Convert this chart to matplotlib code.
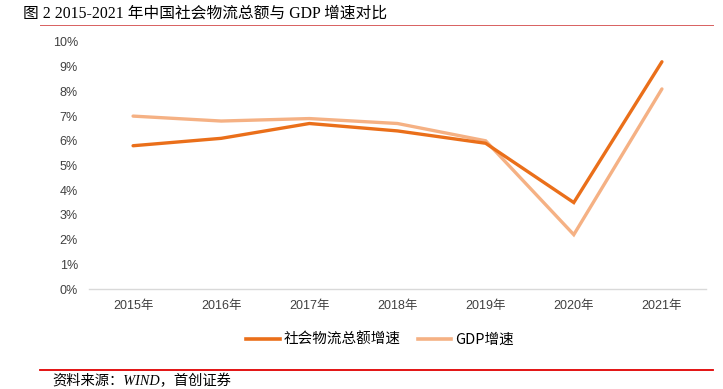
import matplotlib.pyplot as plt
from matplotlib.lines import Line2D
from matplotlib.ticker import PercentFormatter

# data
years = ['2015年', '2016年', '2017年', '2018年', '2019年', '2020年', '2021年']
logistics_growth = [5.8, 6.1, 6.7, 6.4, 5.9, 3.5, 9.2]
gdp_growth = [7.0, 6.8, 6.9, 6.7, 6.0, 2.2, 8.1]
series_names = ['社会物流总额增速', 'GDP增速']

cjk = ['Noto Sans CJK SC', 'DejaVu Sans']
serif_cjk = ['Liberation Serif', 'Noto Sans CJK SC', 'DejaVu Sans']
plt.rcParams['font.family'] = ['Liberation Sans', 'Noto Sans CJK SC', 'DejaVu Sans']

W, H = 723, 389
fig = plt.figure(figsize=(W / 100, H / 100), dpi=100)

# plot area placed in pixel terms
left, right, bottom, top = 89, 706, 289, 42
ax = fig.add_axes([left / W, (H - bottom) / H, (right - left) / W, (bottom - top) / H])

x = range(len(years))
ax.plot(x, logistics_growth, color='#EA6F1A', lw=2.4, solid_capstyle='round',
        solid_joinstyle='miter', zorder=3)
ax.plot(x, gdp_growth, color='#F5B184', lw=2.4, solid_capstyle='round',
        solid_joinstyle='miter', zorder=2)

ax.set_xlim(-0.5, len(years) - 0.5)
ax.set_ylim(0, 10)
ax.set_yticks(range(0, 11))
ax.yaxis.set_major_formatter(PercentFormatter(decimals=0))
ax.set_xticks(list(x))
ax.set_xticklabels(years, fontsize=9, color='#404040')
ax.tick_params(axis='y', labelsize=9, colors='#404040', length=0, pad=8)
ax.tick_params(axis='x', length=0, pad=8)

for s in ['top', 'right', 'left']:
    ax.spines[s].set_visible(False)
ax.spines['bottom'].set_color('#D9D9D9')
ax.spines['bottom'].set_linewidth(1.0)

# legend
handles = [Line2D([], [], color='#EA6F1A', lw=2.6),
           Line2D([], [], color='#F5B184', lw=2.6)]
fig.legend(handles, series_names, loc='center', bbox_to_anchor=(380 / W, (H - 340) / H),
           ncol=2, frameon=False, handlelength=2.3, handletextpad=0.25, columnspacing=1.2,
           prop={'family': cjk, 'size': 10.5})

# title and red rules
fig.text(23 / W, (H - 14) / H, '图 2 2015-2021 年中国社会物流总额与 GDP 增速对比',
         fontsize=11.3, va='center', ha='left', family=serif_cjk)
fig.add_artist(Line2D([40 / W, 713 / W], [(H - 24.5) / H] * 2, color='#D86060', lw=0.7))
fig.add_artist(Line2D([40 / W, 713 / W], [(H - 370) / H] * 2, color='#E00000', lw=1.3))

fig.text(52 / W, (H - 381) / H, '资料来源：WIND，首创证券', fontsize=10.3, va='center',
         ha='left', style='italic', family=serif_cjk)

fig.savefig('out.png', dpi=100)
